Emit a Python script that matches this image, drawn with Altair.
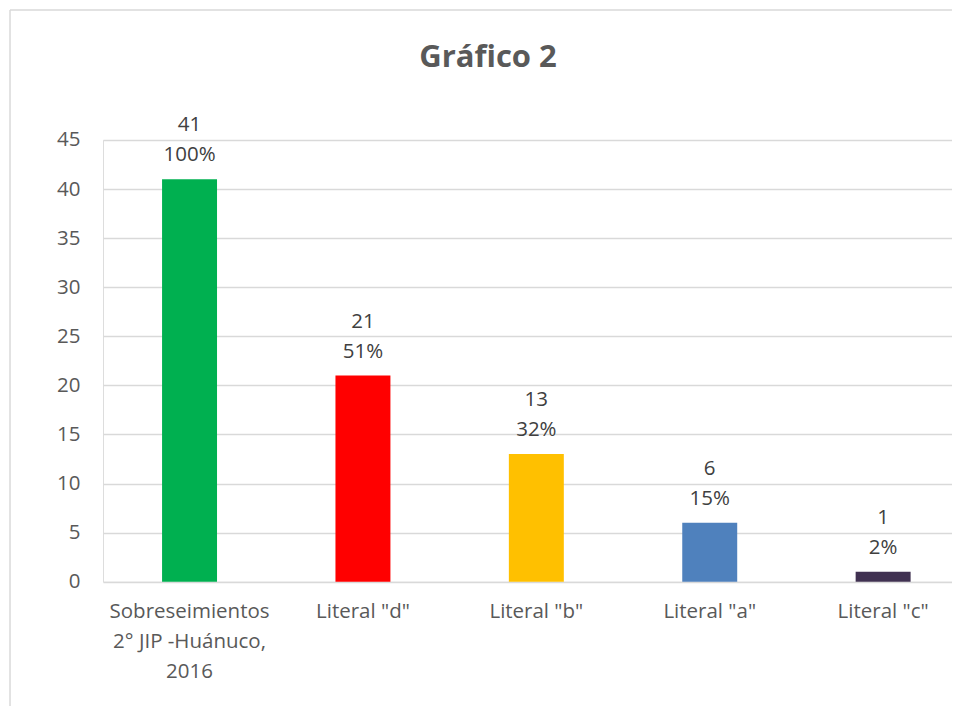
import altair as alt
import pandas as pd

categories = ["Sobreseimientos\n2° JIP -Huánuco,\n2016", 'Literal "d"', 'Literal "b"', 'Literal "a"', 'Literal "c"']
counts = [41, 21, 13, 6, 1]
percents = ["100%", "51%", "32%", "15%", "2%"]
colors = ["#00B050", "#FF0000", "#FFC000", "#4F81BD", "#403151"]

df = pd.DataFrame({"cat": categories, "n": counts, "pct": percents, "color": colors})

FONT = "Open Sans"
FS = 20.5

x = alt.X("cat:N", sort=categories, title=None,
          scale=alt.Scale(paddingInner=0.683, paddingOuter=0.2896, align=0.588),
          axis=alt.Axis(labelAngle=0, labelExpr="split(datum.label, '\\n')",
                        labelFontSize=FS, labelFont=FONT, labelColor="#595959",
                        labelLineHeight=30, labelPadding=20, labelBaseline="top",
                        ticks=False, domain=False, grid=False))
y = alt.Y("n:Q", title=None,
          scale=alt.Scale(domain=[0, 45], nice=False),
          axis=alt.Axis(values=list(range(0, 46, 5)), labelFontSize=FS, labelFont=FONT,
                        labelColor="#595959", labelPadding=23, ticks=False, domain=False,
                        gridColor="#D9D9D9", gridWidth=1.5))

base = alt.Chart(df)

bars = base.mark_bar().encode(x=x, y=y, color=alt.Color("color:N", scale=None))
pct = base.mark_text(fontSize=FS, font=FONT, color="#404040", baseline="middle", dy=-24).encode(
    x=alt.X("cat:N", sort=categories), y="n:Q", text="pct:N")
cnt = base.mark_text(fontSize=FS, font=FONT, color="#404040", baseline="middle", dy=-54).encode(
    x=alt.X("cat:N", sort=categories), y="n:Q", text="n:Q")

border_left = alt.Chart(pd.DataFrame({"a": [0]})).mark_rule(color="#D9D9D9", strokeWidth=1.5).encode(
    x=alt.value(-93), y=alt.value(-130), y2=alt.value(570))
border_top = alt.Chart(pd.DataFrame({"a": [0]})).mark_rule(color="#D9D9D9", strokeWidth=1.5).encode(
    x=alt.value(-93), x2=alt.value(849), y=alt.value(-130))

chart = alt.layer(bars, pct, cnt, border_left, border_top).properties(
    width=849, height=441.7,
    title=alt.TitleParams("Gráfico 2", font=FONT, fontSize=31, fontWeight="bold",
                          color="#595959", anchor="middle", frame="bounds", offset=0,
                          baseline="alphabetic", dy=89, dx=7),
    autosize=alt.AutoSizeParams(type="none"),
    padding={"left": 95, "top": 132, "right": 0, "bottom": 124},
).configure_view(stroke=None).configure(background="white")

chart.save("out.html", embed_options={"renderer": "svg", "actions": False})
